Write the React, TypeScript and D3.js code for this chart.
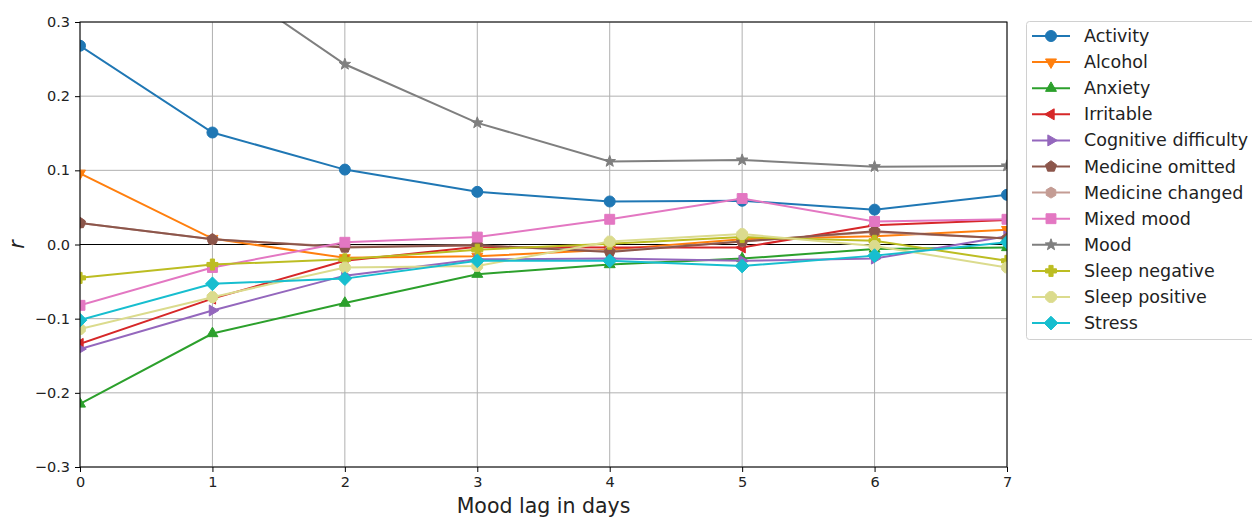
import React, { useEffect, useRef } from 'react';
import * as d3 from 'd3';

const lags = [0, 1, 2, 3, 4, 5, 6, 7];
const yTicks = [-0.3, -0.2, -0.1, 0.0, 0.1, 0.2, 0.3];

const activity = [0.268, 0.151, 0.101, 0.071, 0.058, 0.059, 0.047, 0.067];
const alcohol = [0.096, 0.008, -0.018, -0.016, -0.007, 0.007, 0.011, 0.020];
const anxiety = [-0.215, -0.120, -0.079, -0.040, -0.027, -0.019, -0.006, -0.004];
const irritable = [-0.134, -0.073, -0.022, -0.003, -0.004, -0.004, 0.026, 0.033];
const cognitive = [-0.141, -0.089, -0.042, -0.020, -0.019, -0.022, -0.019, 0.011];
const medOmitted = [0.029, 0.007, -0.004, -0.001, -0.010, 0.004, 0.018, 0.008];
const medChanged = [0.029, 0.007, -0.003, -0.001, -0.009, 0.004, 0.017, 0.008];
const mixedMood = [-0.082, -0.031, 0.003, 0.010, 0.034, 0.062, 0.031, 0.034];
const mood = [0.52, 0.365, 0.243, 0.164, 0.112, 0.114, 0.105, 0.106];
const sleepNeg = [-0.045, -0.027, -0.020, -0.007, 0.001, 0.010, 0.005, -0.022];
const sleepPos = [-0.114, -0.071, -0.031, -0.029, 0.004, 0.014, -0.002, -0.031];
const stress = [-0.102, -0.053, -0.046, -0.022, -0.022, -0.029, -0.015, 0.003];

const names = ['Activity', 'Alcohol', 'Anxiety', 'Irritable', 'Cognitive difficulty', 'Medicine omitted',
	'Medicine changed', 'Mixed mood', 'Mood', 'Sleep negative', 'Sleep positive', 'Stress'];
const values = [activity, alcohol, anxiety, irritable, cognitive, medOmitted, medChanged, mixedMood, mood,
	sleepNeg, sleepPos, stress];
const colors = ['#1f77b4', '#ff7f0e', '#2ca02c', '#d62728', '#9467bd', '#8c564b', '#c49c94', '#e377c2',
	'#7f7f7f', '#bcbd22', '#dbdb8d', '#17becf'];
const markers = ['circle', 'tridown', 'triup', 'trileft', 'triright', 'pentagon', 'hexagon', 'square', 'star',
	'plus', 'octagon', 'diamond'];
// medicine changed sits under medicine omitted in the picture
const drawOrder = [0, 1, 2, 3, 4, 6, 5, 7, 8, 9, 10, 11];

const poly = (pts: number[][]) => 'M' + pts.map(p => p[0].toFixed(2) + ',' + p[1].toFixed(2)).join('L') + 'Z';
const ngon = (n: number, r: number, start: number) =>
	d3.range(n).map(i => {
		const a = start + (i * 2 * Math.PI) / n;
		return [r * Math.cos(a), r * Math.sin(a)];
	});

const markerPath = (kind: string) => {
	const r = 5.5;
	switch (kind) {
		case 'circle':
			return d3.symbol(d3.symbolCircle, Math.PI * r * r)();
		case 'triup':
			return poly(ngon(3, r * 1.15, -Math.PI / 2));
		case 'tridown':
			return poly(ngon(3, r * 1.15, Math.PI / 2));
		case 'trileft':
			return poly(ngon(3, r * 1.15, Math.PI));
		case 'triright':
			return poly(ngon(3, r * 1.15, 0));
		case 'pentagon':
			return poly(ngon(5, r * 1.05, -Math.PI / 2));
		case 'hexagon':
			return poly(ngon(6, r, -Math.PI / 2));
		case 'octagon':
			return poly(ngon(8, r * 1.05, Math.PI / 8));
		case 'square':
			return poly([[-r * 0.9, -r * 0.9], [r * 0.9, -r * 0.9], [r * 0.9, r * 0.9], [-r * 0.9, r * 0.9]]);
		case 'diamond':
			return poly([[0, -r * 1.25], [r * 1.25, 0], [0, r * 1.25], [-r * 1.25, 0]]);
		case 'star': {
			const pts = d3.range(10).map(i => {
				const a = -Math.PI / 2 + (i * Math.PI) / 5;
				const rr = i % 2 === 0 ? r * 1.1 : r * 0.45;
				return [rr * Math.cos(a), rr * Math.sin(a)];
			});
			return poly(pts);
		}
		case 'plus': {
			const a = r, b = r * 0.38;
			return poly([[-b, -a], [b, -a], [b, -b], [a, -b], [a, b], [b, b], [b, a], [-b, a], [-b, b], [-a, b], [-a, -b], [-b, -b]]);
		}
	}
	return '';
};

const App = () => {
	const ref = useRef<SVGSVGElement>(null);

	useEffect(() => {
		const svg = d3.select(ref.current);
		svg.selectAll('*').remove();

		const left = 80;
		const right = 1007;
		const top = 22;
		const bottom = 467;
		const font = 'DejaVu Sans, sans-serif';

		const x = d3.scaleLinear().domain([0, 7]).range([left, right]);
		const y = d3.scaleLinear().domain([-0.3, 0.3]).range([bottom, top]);

		svg.append('defs')
			.append('clipPath')
			.attr('id', 'plotclip')
			.append('rect')
			.attr('x', left)
			.attr('y', top)
			.attr('width', right - left)
			.attr('height', bottom - top);

		// grid
		const grid = svg.append('g');
		grid.selectAll('.gx')
			.data(lags)
			.enter()
			.append('line')
			.attr('x1', d => x(d))
			.attr('x2', d => x(d))
			.attr('y1', top)
			.attr('y2', bottom)
			.attr('stroke', '#b0b0b0')
			.attr('stroke-width', 1);
		grid.selectAll('.gy')
			.data(yTicks)
			.enter()
			.append('line')
			.attr('x1', left)
			.attr('x2', right)
			.attr('y1', d => y(d))
			.attr('y2', d => y(d))
			.attr('stroke', '#b0b0b0')
			.attr('stroke-width', 1);

		// zero line
		svg.append('line')
			.attr('x1', left)
			.attr('x2', right)
			.attr('y1', y(0))
			.attr('y2', y(0))
			.attr('stroke', '#000')
			.attr('stroke-width', 1.2);

		const plot = svg.append('g').attr('clip-path', 'url(#plotclip)');
		const line = d3.line<number>().x((d, i) => x(lags[i])).y(d => y(d));

		drawOrder.forEach(k => {
			const vals = values[k];
			const g = plot.append('g');
			g.append('path')
				.attr('d', line(vals))
				.attr('fill', 'none')
				.attr('stroke', colors[k])
				.attr('stroke-width', 2);
			g.selectAll('path.m')
				.data(vals)
				.enter()
				.append('path')
				.attr('class', 'm')
				.attr('d', markerPath(markers[k]))
				.attr('transform', (d, i) => `translate(${x(lags[i])},${y(d)})`)
				.attr('fill', colors[k])
				.attr('stroke', colors[k])
				.attr('stroke-width', 1);
		});

		// frame
		svg.append('rect')
			.attr('x', left)
			.attr('y', top)
			.attr('width', right - left)
			.attr('height', bottom - top)
			.attr('fill', 'none')
			.attr('stroke', '#000')
			.attr('stroke-width', 1);

		// axes
		const xAxis = svg.append('g')
			.attr('transform', `translate(0, ${bottom})`)
			.call(d3.axisBottom(x).tickValues(lags).tickFormat(d3.format('d')).tickSize(5).tickPadding(5));
		const yAxis = svg.append('g')
			.attr('transform', `translate(${left}, 0)`)
			.call(d3.axisLeft(y).tickValues(yTicks).tickFormat(d => d3.format('.1f')(d as number).replace('-', '\u2212')).tickSize(5).tickPadding(5));
		[xAxis, yAxis].forEach(a => {
			a.select('.domain').remove();
			a.selectAll('text').style('font-family', font).style('font-size', '14.5px').attr('fill', '#222');
			a.selectAll('line').attr('stroke', '#000');
		});

		svg.append('text')
			.attr('x', (left + right) / 2)
			.attr('y', 513)
			.attr('text-anchor', 'middle')
			.style('font-family', font)
			.style('font-size', '20.5px')
			.attr('fill', '#222')
			.text('Mood lag in days');

		svg.append('text')
			.attr('transform', `translate(24, ${y(0)}) rotate(-90)`)
			.attr('text-anchor', 'middle')
			.style('font-family', font)
			.style('font-size', '20.5px')
			.style('font-style', 'italic')
			.attr('fill', '#222')
			.text('r');

		// legend
		const legend = svg.append('g');
		legend.append('rect')
			.attr('x', 1026.5)
			.attr('y', 21.5)
			.attr('width', 240)
			.attr('height', 318)
			.attr('rx', 3)
			.attr('fill', '#fff')
			.attr('fill-opacity', 0.8)
			.attr('stroke', '#d0d0d0')
			.attr('stroke-width', 1);
		const rows = legend.selectAll('g.row')
			.data(names)
			.enter()
			.append('g')
			.attr('class', 'row')
			.attr('transform', (d, i) => `translate(0, ${36 + i * 26.1})`);
		rows.append('line')
			.attr('x1', 1032)
			.attr('x2', 1070)
			.attr('stroke', (d, i) => colors[i])
			.attr('stroke-width', 2);
		rows.append('path')
			.attr('d', (d, i) => markerPath(markers[i]))
			.attr('transform', 'translate(1051, 0)')
			.attr('fill', (d, i) => colors[i])
			.attr('stroke', (d, i) => colors[i]);
		rows.append('text')
			.attr('x', 1084)
			.attr('y', 6)
			.style('font-family', font)
			.style('font-size', '17.5px')
			.attr('fill', '#222')
			.text(d => d);
	}, []);

	return (
		<svg
			ref={ref}
			width={1252}
			height={518}
			style={{ position: 'absolute', left: 0, top: 0, background: '#fff' }}
		/>
	);
};

export default App;
